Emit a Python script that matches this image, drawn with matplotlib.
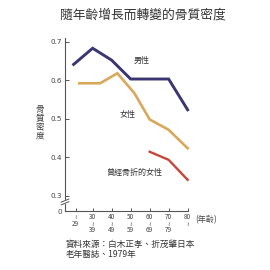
import matplotlib
matplotlib.use("Agg")
import matplotlib.pyplot as plt
from matplotlib.lines import Line2D

plt.rcParams['font.family'] = ['Noto Sans CJK TC', 'DejaVu Sans']

title = "隨年齡增長而轉變的骨質密度"
ylabel = "骨質密度"
male_age = [20, 30, 40, 50, 60, 70, 80]
male_bmd = [0.641, 0.683, 0.652, 0.603, 0.603, 0.603, 0.523]
female_age = [23, 34, 43, 52, 60, 70, 80]
female_bmd = [0.592, 0.592, 0.618, 0.566, 0.498, 0.471, 0.423]
fract_age = [60, 70, 80]
fract_bmd = [0.414, 0.393, 0.341]
xtick_pos = [21, 30, 40, 50, 60, 70, 80]
xtick_labels = ["≀\n29", "30\n≀\n39", "40\n≀\n49", "50\n≀\n59", "60\n≀\n69", "70\n≀\n79", "80\n≀"]
ytick_pos = [0.26, 0.3, 0.4, 0.5, 0.6, 0.7]
ytick_labels = ["0", "0.3", "0.4", "0.5", "0.6", "0.7"]

W = H = 270
fig = plt.figure(figsize=(2.7, 2.7), dpi=100)
fig.patch.set_facecolor("white")

def fx(px):
    return px / W
def fy(py):
    return 1 - py / H

left, right, top, bottom = 65, 192, 38, 211
ax = fig.add_axes([fx(left), fy(bottom), (right - left) / W, (bottom - top) / H])
ax.set_xlim(15.45, 82.3)
ax.set_ylim(0.26, 0.7096)

ax.plot(male_age, male_bmd, color="#3b3572", lw=2.1, solid_joinstyle="miter")
ax.plot(female_age, female_bmd, color="#d9a85b", lw=1.9, solid_joinstyle="miter")
ax.plot(fract_age, fract_bmd, color="#c8453a", lw=1.7)

for s in ["top", "right"]:
    ax.spines[s].set_visible(False)
for s in ["left", "bottom"]:
    ax.spines[s].set_color("#555555")
    ax.spines[s].set_linewidth(0.8)
ax.spines["bottom"].set_bounds(15.45, 80)

ax.set_yticks(ytick_pos)
ax.set_yticklabels(ytick_labels)
ax.set_xticks(xtick_pos)
ax.set_xticklabels(xtick_labels, linespacing=0.75, va="top")
ax.tick_params(axis="y", direction="in", length=3, width=0.7, colors="#555555",
               labelsize=5.2, pad=2, labelcolor="#444444")
ax.tick_params(axis="x", direction="in", length=2.5, width=0.7, colors="#555555",
               labelsize=4.6, pad=1.5, labelcolor="#444444")
for t in ax.get_yticklabels():
    t.set_family(["DejaVu Sans"])
ax.get_yticklines()[0].set_visible(False)

# axis break marks
bx = 0.0
trans = ax.get_yaxis_transform()
ax.add_line(Line2D([bx - 0.012, bx + 0.012], [0.2835, 0.2835], transform=trans,
                   color="white", lw=3, clip_on=False, zorder=5))
for yy in (0.280, 0.287):
    ax.add_line(Line2D([bx - 0.03, bx + 0.03], [yy - 0.004, yy + 0.004], transform=trans,
                       color="#555555", lw=0.7, clip_on=False, zorder=6))

ax.text(55.7, 0.652, "男性", fontsize=5.8, color="#333333", ha="center", va="center")
ax.text(48.1, 0.510, "女性", fontsize=5.8, color="#333333", ha="center", va="center")
ax.text(52.5, 0.360, "曾經骨折的女性", fontsize=5.8, color="#333333", ha="center", va="center")

fig.text(fx(206), fy(220), "(年齡)", fontsize=5.9, color="#444444", ha="center", va="center")
fig.text(fx(143), fy(15), title, fontsize=9.2, color="#333333", ha="center", va="center")
fig.text(fx(40), fy(123), "\n".join(ylabel), fontsize=6.2, color="#444444",
         ha="center", va="center", linespacing=1.0)
fig.text(fx(66), fy(244), "資料來源：白木正孝、折茂肇日本", fontsize=6.2, color="#333333",
         ha="left", va="center")
fig.text(fx(66), fy(254.5), "老年醫誌、1979年", fontsize=6.2, color="#333333",
         ha="left", va="center")

fig.savefig("out.png", dpi=100, facecolor="white")
